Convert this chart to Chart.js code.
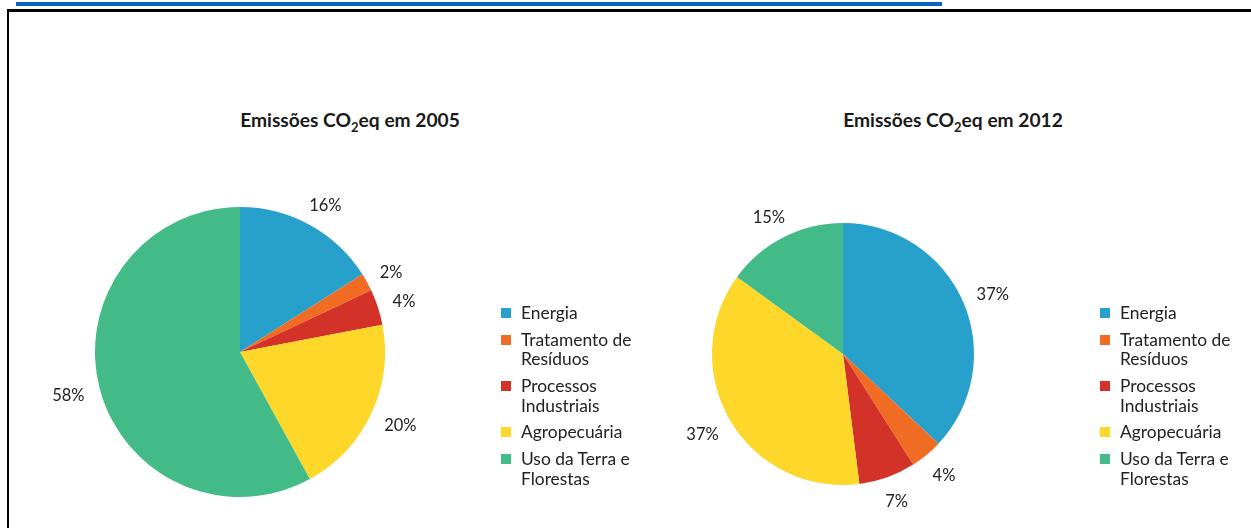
<!DOCTYPE html>
<html>
<head>
<meta charset="utf-8">
<script src="https://cdn.jsdelivr.net/npm/chart.js@4.4.1/dist/chart.umd.min.js"></script>
<style>
  html, body { margin:0; padding:0; background:#fff; width:1251px; height:528px; overflow:hidden; font-family: Lato, "Open Sans", sans-serif; }
  #topline { position:absolute; left:16px; top:2px; width:926px; height:4px; background:#0a63c2; }
  #frame { position:absolute; left:7px; top:9px; width:1300px; height:600px; border-left:2px solid #000; border-top:3px solid #000; box-sizing:border-box; }
  .title { position:absolute; top:108px; font-weight:bold; font-size:19.2px; color:#1a1a1a; white-space:nowrap; transform:translateX(-50%); }
  .title sub { font-size:13px; vertical-align:-5px; line-height:0; }
  .legend { position:absolute; font-size:17.4px; color:#222; line-height:19.5px; }
  .legend .item { position:relative; padding-left:20px; margin-bottom:7.3px; }
  .legend .sw { position:absolute; left:0; top:5px; width:10px; height:10px; }
  .cw { position:absolute; }
</style>
</head>
<body>
<div id="topline"></div>
<div id="frame"></div>
<div class="title" style="left:350px;">Emissões CO<sub>2</sub>eq em 2005</div>
<div class="title" style="left:953px;">Emissões CO<sub>2</sub>eq em 2012</div>
<div class="cw" style="left:0;top:160px;width:600px;height:368px;"><canvas id="c1"></canvas></div>
<div class="cw" style="left:620px;top:160px;width:631px;height:368px;"><canvas id="c2"></canvas></div>
<div class="legend" id="leg1" style="left:501px;top:303px;"></div>
<div class="legend" id="leg2" style="left:1100px;top:303px;"></div>
<script>
const categories = ["Energia", "Tratamento de Resíduos", "Processos Industriais", "Agropecuária", "Uso da Terra e Florestas"];
const legendLines = [["Energia"], ["Tratamento de", "Resíduos"], ["Processos", "Industriais"], ["Agropecuária"], ["Uso da Terra e", "Florestas"]];
const values2005 = [16, 2, 4, 20, 58];
const values2012 = [37, 4, 7, 37, 15];
const colors = ["#27a0cb", "#ef6c22", "#d33228", "#fdd72a", "#42bb88"];

const pctLabels = {
  id: 'pctLabels',
  afterDatasetsDraw(chart, args, opts) {
    const ctx = chart.ctx;
    const meta = chart.getDatasetMeta(0);
    const data = chart.data.datasets[0].data;
    ctx.save();
    ctx.font = '16.5px Lato, "Open Sans", sans-serif';
    ctx.fillStyle = '#222';
    ctx.textAlign = 'center';
    ctx.textBaseline = 'middle';
    meta.data.forEach((arc, i) => {
      const p = arc.getProps(['x','y','startAngle','endAngle','outerRadius'], true);
      const mid = (p.startAngle + p.endAngle) / 2;
      const txt = data[i] + '%';
      const w = ctx.measureText(txt).width;
      const h = 16;
      const c = Math.cos(mid), s = Math.sin(mid);
      const r = p.outerRadius + (opts.gap || 12);
      ctx.fillText(txt, p.x + c * r + c * w / 2, p.y + s * r + s * h / 2 + 2);
    });
    ctx.restore();
  }
};

function makePie(id, values, pad) {
  new Chart(document.getElementById(id), {
    type: 'pie',
    data: { labels: categories, datasets: [{ data: values, backgroundColor: colors, borderWidth: 0, offset: 0, hoverOffset: 0 }] },
    options: {
      responsive: true, maintainAspectRatio: false, animation: false, events: [],
      layout: { padding: pad },
      plugins: { legend: { display: false }, tooltip: { enabled: false }, pctLabels: { gap: 16 } }
    },
    plugins: [pctLabels]
  });
}
makePie('c1', values2005, { left: 95, right: 215, top: 47, bottom: 31 });
makePie('c2', values2012, { left: 92, right: 277, top: 63, bottom: 43 });

function makeLegend(id) {
  const el = document.getElementById(id);
  legendLines.forEach((lines, i) => {
    const it = document.createElement('div');
    it.className = 'item';
    const sw = document.createElement('span');
    sw.className = 'sw';
    sw.style.background = colors[i];
    it.appendChild(sw);
    lines.forEach((l, j) => {
      if (j) it.appendChild(document.createElement('br'));
      it.appendChild(document.createTextNode(l));
    });
    el.appendChild(it);
  });
}
makeLegend('leg1');
makeLegend('leg2');
</script>
</body>
</html>
